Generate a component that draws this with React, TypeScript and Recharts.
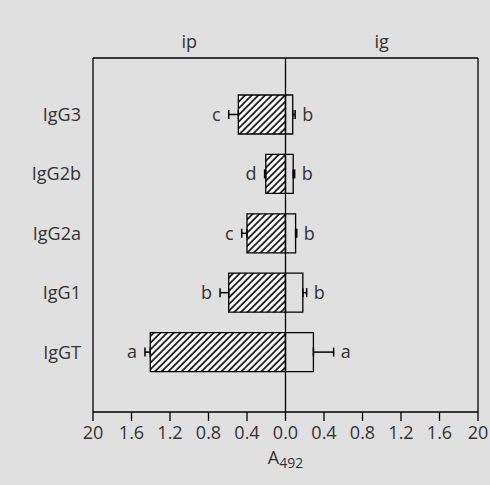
import React from "react";
import {
  BarChart, Bar, XAxis, YAxis, ErrorBar, LabelList, ReferenceLine,
} from "recharts";

const categories = ["IgG3", "IgG2b", "IgG2a", "IgG1", "IgGT"];
const ipValues = [-0.49, -0.205, -0.4, -0.59, -1.405];
const ipErrors = [0.1, 0.012, 0.055, 0.09, 0.055];
const igValues = [0.075, 0.08, 0.105, 0.18, 0.29];
const igErrors = [0.025, 0.015, 0.012, 0.04, 0.21];
const ipLetters = ["c", "d", "c", "b", "a"];
const igLetters = ["b", "b", "b", "b", "a"];

const xTicks = [-2, -1.6, -1.2, -0.8, -0.4, 0, 0.4, 0.8, 1.2, 1.6, 2];
const xTickLabels = ["20", "1.6", "1.2", "0.8", "0.4", "0.0", "0.4", "0.8", "1.2", "1.6", "20"];
const topTicks = [-1, 1];
const topTickLabels = ["ip", "ig"];

const data = categories.map((name, i) => ({
  name,
  ip: ipValues[i],
  ig: igValues[i],
  ipErr: [ipErrors[i], 0],
  igErr: [0, igErrors[i]],
  ipLetter: ipLetters[i],
  igLetter: igLetters[i],
}));

const FONT = "'Open Sans', sans-serif";
const TEXT = "#333";
const FS = 18;

// letter placed just past the end of the error bar
function letterLabel(side: "ip" | "ig") {
  return (props: any) => {
    const { x, y, width, height, value, index } = props;
    const v = side === "ip" ? ipValues[index] : igValues[index];
    const err = side === "ip" ? ipErrors[index] : igErrors[index];
    const left = Math.min(x, x + width);
    const right = Math.max(x, x + width);
    const ppu = Math.abs(width) / Math.abs(v);
    const cy = y + height / 2;
    if (side === "ip") {
      return (
        <text x={left - err * ppu - 8} y={cy} dy="0.35em" textAnchor="end"
          fontSize={FS} fill={TEXT} fontFamily={FONT}>{value}</text>
      );
    }
    return (
      <text x={right + err * ppu + 7} y={cy} dy="0.35em" textAnchor="start"
        fontSize={FS} fill={TEXT} fontFamily={FONT}>{value}</text>
    );
  };
}

function AxisTitle(props: any) {
  const { viewBox } = props;
  const cx = viewBox.x + viewBox.width / 2;
  return (
    <text x={cx} y={464} textAnchor="middle" fill={TEXT} fontFamily={FONT} fontSize={FS}>
      A<tspan fontSize={14} dy={4}>492</tspan>
    </text>
  );
}

export default function App() {
  return (
    <div style={{ position: "absolute", left: 0, top: 0, width: 490, height: 485, background: "#e0e0e0" }}>
      <BarChart
        width={490}
        height={485}
        data={data}
        layout="vertical"
        stackOffset="sign"
        margin={{ top: 28, right: 12, bottom: 23, left: 0 }}
        style={{ fontFamily: FONT }}
      >
        <defs>
          <pattern id="hatch" patternUnits="userSpaceOnUse" width={4.7} height={4.7} patternTransform="rotate(45)">
            <rect width={4.7} height={4.7} fill="#fff" />
            <line x1={1} y1={0} x2={1} y2={4.7} stroke="#000" strokeWidth={1.6} />
          </pattern>
        </defs>
        <XAxis
          xAxisId="top"
          orientation="top"
          type="number"
          domain={[-2, 2]}
          allowDataOverflow
          ticks={topTicks}
          interval={0}
          tickFormatter={(_v: number, i: number) => topTickLabels[i]}
          tickLine={false}
          axisLine={{ stroke: "#000", strokeWidth: 1.3 }}
          tick={{ fill: TEXT, fontSize: FS }}
          tickMargin={4}
          height={30}
        />
        <XAxis
          type="number"
          domain={[-2, 2]}
          ticks={xTicks}
          interval={0}
          tickFormatter={(_v: number, i: number) => xTickLabels[i]}
          tickSize={9}
          tickLine={{ stroke: "#000", strokeWidth: 1.3 }}
          axisLine={{ stroke: "#000", strokeWidth: 1.3 }}
          tick={{ fill: TEXT, fontSize: FS }}
          tickMargin={5}
          height={50}
          label={<AxisTitle />}
        />
        <YAxis
          type="category"
          dataKey="name"
          width={93}
          padding={{ top: 27, bottom: 30 }}
          tickLine={false}
          axisLine={{ stroke: "#000", strokeWidth: 1.3 }}
          tick={{ fill: TEXT, fontSize: FS }}
          tickMargin={6}
        />
        <ReferenceLine x={2} stroke="#000" strokeWidth={1.3} />
        <Bar dataKey="ip" stackId="s" fill="url(#hatch)" stroke="#000" strokeWidth={1.3}
          barSize={39} isAnimationActive={false}>
          <ErrorBar dataKey="ipErr" direction="x" width={4.5} stroke="#000" strokeWidth={1.5} />
          <LabelList dataKey="ipLetter" content={letterLabel("ip")} />
        </Bar>
        <Bar dataKey="ig" stackId="s" fill="#e0e0e0" stroke="#000" strokeWidth={1.3}
          barSize={39} isAnimationActive={false}>
          <ErrorBar dataKey="igErr" direction="x" width={4.5} stroke="#000" strokeWidth={1.5} />
          <LabelList dataKey="igLetter" content={letterLabel("ig")} />
        </Bar>
        <ReferenceLine x={0} stroke="#000" strokeWidth={1.3} />
      </BarChart>
    </div>
  );
}
